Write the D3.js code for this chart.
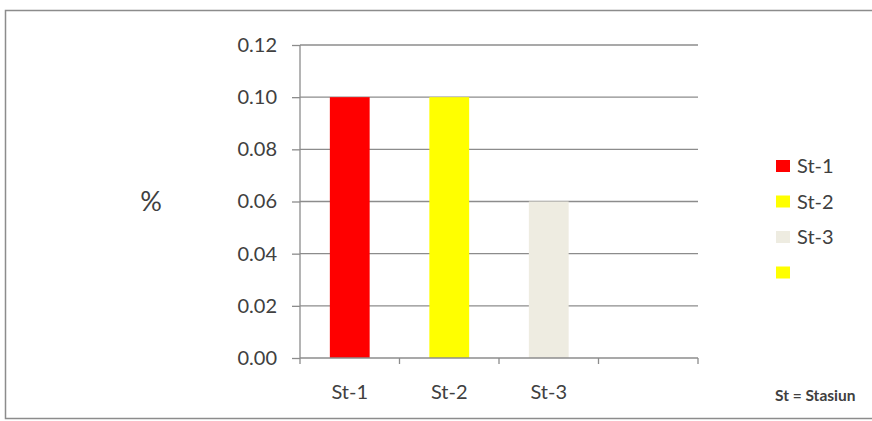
<!DOCTYPE html>
<meta charset="utf-8">
<script src="https://d3js.org/d3.v7.min.js"></script>
<style>
  body { margin: 0; background: #fff; }
  text { font-family: Lato, "Open Sans", sans-serif; fill: #404040; }
</style>
<div id="my_chart"><svg></svg></div>
<script>
    // chart data
    var categories = ["St-1", "St-2", "St-3", ""];
    var values = [0.10, 0.10, 0.06, null];
    var colors = ["#ff0000", "#ffff00", "#eeece1", "#ffff00"];
    var legendLabels = ["St-1", "St-2", "St-3", ""];
    var yTicks = [0, 0.02, 0.04, 0.06, 0.08, 0.10, 0.12];

    var W = 872, H = 421;
    var margin = {top: 45, left: 300, right: 174, bottom: 63};
    var width = W - margin.left - margin.right,
        height = H - margin.top - margin.bottom;

    var root = d3.select("#my_chart").select("svg")
        .attr("width", W)
        .attr("height", H);

    // outer frame
    root.append("rect")
        .attr("x", 5.5).attr("y", 10.5)
        .attr("width", 870).attr("height", 408)
        .attr("fill", "none")
        .attr("stroke", "#8c8c8c")
        .attr("stroke-width", 1.5);

    var svg = root.append("g")
        .attr("transform", "translate(" + margin.left + "," + margin.top + ")");

    var x = d3.scaleBand()
        .domain(d3.range(categories.length))
        .range([0, width])
        .paddingInner(0.6)
        .paddingOuter(0.3);

    var y = d3.scaleLinear()
        .domain([0, 0.12])
        .range([height, 0]);

    // gridlines
    svg.append("g")
        .selectAll("line")
        .data(yTicks.filter(function(d) { return d > 0; }))
        .enter().append("line")
        .attr("x1", 0).attr("x2", width)
        .attr("y1", function(d) { return y(d); })
        .attr("y2", function(d) { return y(d); })
        .attr("stroke", "#8c8c8c")
        .attr("stroke-width", 1.3);

    // bars
    svg.append("g")
        .selectAll("rect")
        .data(values)
        .enter().append("rect")
        .filter(function(d) { return d !== null; })
        .attr("x", function(d, i) { return x(i); })
        .attr("y", function(d) { return y(d); })
        .attr("width", x.bandwidth())
        .attr("height", function(d) { return height - y(d); })
        .attr("fill", function(d, i) { return colors[i]; });

    // y axis
    var yAxis = svg.append("g")
        .call(d3.axisLeft(y).tickValues(yTicks).tickFormat(d3.format(".2f")).tickSize(8).tickPadding(15));
    yAxis.selectAll("path, line").attr("stroke", "#8c8c8c").attr("stroke-width", 1.3);
    yAxis.select(".domain").attr("d", "M0,0V" + height);
    yAxis.selectAll("text").style("font-size", "20px").attr("fill", "#404040")
        .style("font-family", "Lato, 'Open Sans', sans-serif");

    // x axis: ticks between categories
    var step = width / categories.length;
    var xg = svg.append("g").attr("transform", "translate(0," + height + ")");
    xg.append("line")
        .attr("x1", 0).attr("x2", width)
        .attr("stroke", "#8c8c8c").attr("stroke-width", 1.3);
    xg.selectAll(".tk")
        .data(d3.range(categories.length + 1))
        .enter().append("line")
        .attr("x1", function(d) { return d * step; })
        .attr("x2", function(d) { return d * step; })
        .attr("y1", 0).attr("y2", 6)
        .attr("stroke", "#8c8c8c").attr("stroke-width", 1.3);
    xg.selectAll("text")
        .data(categories)
        .enter().append("text")
        .attr("x", function(d, i) { return x(i) + x.bandwidth() / 2; })
        .attr("y", 41)
        .attr("text-anchor", "middle")
        .style("font-size", "20px")
        .text(function(d) { return d; });

    // y label
    root.append("text")
        .attr("x", 151).attr("y", 211)
        .attr("text-anchor", "middle")
        .style("font-size", "27px")
        .text("%");

    // legend
    var legend = root.append("g").attr("transform", "translate(776,160)");
    legendLabels.forEach(function(lab, i) {
        var g = legend.append("g").attr("transform", "translate(0," + (i * 35.5) + ")");
        g.append("rect")
            .attr("width", 14).attr("height", 12)
            .attr("fill", colors[i]);
        g.append("text")
            .attr("x", 21).attr("y", 13)
            .style("font-size", "20px")
            .text(lab);
    });

    // note
    root.append("text")
        .attr("x", 775).attr("y", 401)
        .style("font-size", "15.5px")
        .style("font-weight", "bold")
        .attr("fill", "#505050")
        .text("St = Stasiun");
</script>
